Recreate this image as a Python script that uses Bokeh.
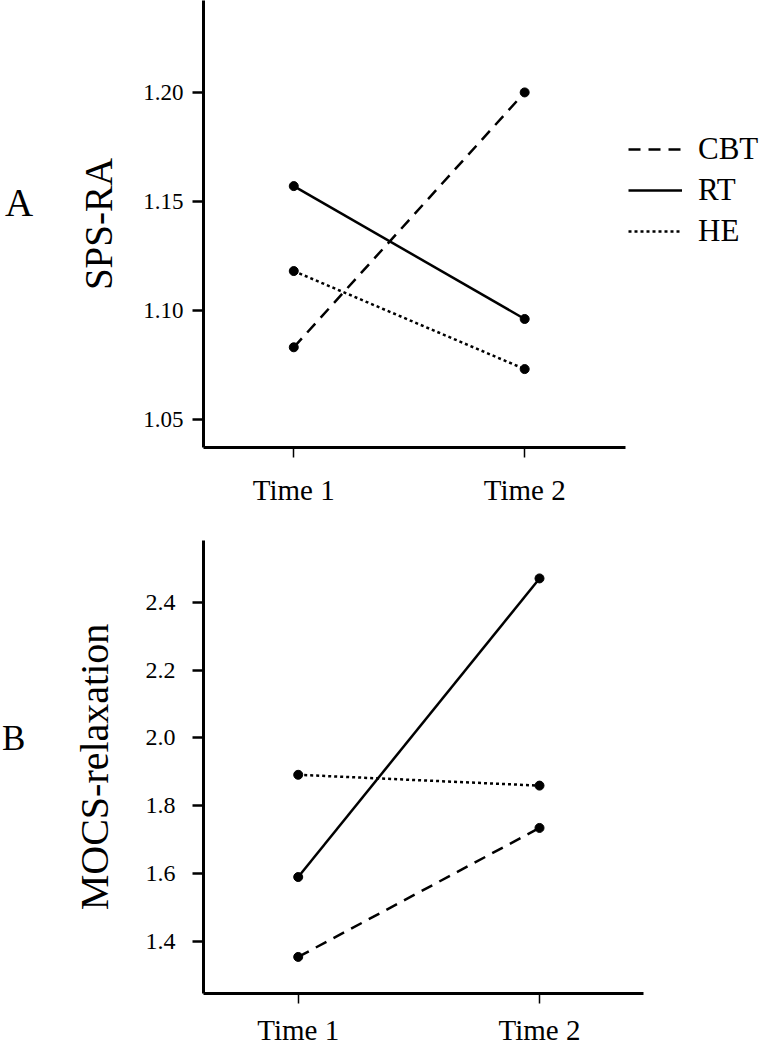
from bokeh.plotting import figure
from bokeh.models import (Range1d, FixedTicker, NumeralTickFormatter, Legend,
                          LegendItem, Div)
from bokeh.layouts import column, row
from bokeh.embed import file_html
from bokeh.resources import INLINE

# ---- data ----
times = ["Time 1", "Time 2"]
groups = ["CBT", "RT", "HE"]

sps_cbt = [1.083, 1.200]
sps_rt = [1.157, 1.096]
sps_he = [1.118, 1.073]

mocs_cbt = [1.353, 1.734]
mocs_rt = [1.589, 2.471]
mocs_he = [1.891, 1.859]

sps_ticks = [1.05, 1.10, 1.15, 1.20]
mocs_ticks = [1.4, 1.6, 1.8, 2.0, 2.2, 2.4]

FONT = "Liberation Serif"
xs = list(range(1, len(times) + 1))
dashes = {"CBT": "12 8", "RT": "solid", "HE": "3 3"}

DIV_W = 60
FIG_W = 705


def make_fig(height, x_rng, y_rng, border_top, border_bottom, border_right,
             yticks, yfmt, ytitle, tick_font, ytick_standoff, title_standoff,
             title_font, xtick_font, xtick_out, xstandoff, xbounds=None):
    p = figure(width=FIG_W, height=height, x_range=x_rng, y_range=y_rng,
               output_backend="svg", toolbar_location=None,
               min_border_left=143, min_border_right=border_right,
               min_border_top=border_top, min_border_bottom=border_bottom)
    p.outline_line_color = None
    p.grid.visible = False
    p.background_fill_color = "white"

    p.xaxis.ticker = FixedTicker(ticks=xs)
    p.xaxis.major_label_overrides = {x: t for x, t in zip(xs, times)}
    if xbounds is not None:
        p.xaxis.bounds = xbounds
    p.yaxis.ticker = FixedTicker(ticks=yticks)
    p.yaxis.formatter = NumeralTickFormatter(format=yfmt)
    for ax in (p.xaxis, p.yaxis):
        ax.axis_line_width = 3
        ax.axis_line_color = "black"
        ax.major_tick_line_color = "black"
        ax.minor_tick_line_color = None
        ax.major_tick_in = 0
        ax.major_label_text_font = FONT
        ax.major_label_text_color = "black"
    p.yaxis.major_tick_out = 11
    p.yaxis.major_tick_line_width = 2.5
    p.yaxis.major_label_text_font_size = tick_font
    p.yaxis.major_label_standoff = ytick_standoff
    p.yaxis.axis_label = ytitle
    p.yaxis.axis_label_text_font = FONT
    p.yaxis.axis_label_text_font_style = "normal"
    p.yaxis.axis_label_text_font_size = title_font
    p.yaxis.axis_label_text_color = "black"
    p.yaxis.axis_label_standoff = title_standoff

    p.xaxis.major_tick_out = xtick_out
    p.xaxis.major_tick_line_width = 1.5
    p.xaxis.major_label_text_font_size = xtick_font
    p.xaxis.major_label_standoff = xstandoff
    return p


def draw_series(p, series):
    rends = {}
    for g, vals in series.items():
        r = p.line(xs, vals, line_color="black", line_width=2.5,
                   line_dash=dashes[g])
        p.scatter(xs, vals, size=9, color="black")
        rends[g] = r
    return rends


def panel_letter(letter, height, size, top, left):
    html = ('<div style="margin:0;padding:0;padding-top:%dpx;padding-left:%dpx;'
            'font-family:\'Liberation Serif\',serif;font-size:%dpx;line-height:1;'
            'color:black;">%s</div>' % (top, left, size, letter))
    return Div(text=html, width=DIV_W, height=height, margin=0)


# ---- panel A (frame runs to the right edge; axis line limited by bounds) ----
pA = make_fig(520, Range1d(0.609, 3.043), Range1d(1.037, 1.2422),
              0, 73, 0, sps_ticks, "0.00", "SPS-RA",
              "23px", 9, 20, "39px", "29px", 10, 16, xbounds=(0.609, 2.436))
rA = draw_series(pA, {"CBT": sps_cbt, "RT": sps_rt, "HE": sps_he})
legend = Legend(items=[LegendItem(label=g, renderers=[rA[g]]) for g in groups],
                location=(425, 198), padding=0, margin=0, spacing=5,
                glyph_width=54, glyph_height=36, label_height=36,
                label_standoff=16,
                label_text_font=FONT, label_text_font_size="31px",
                label_text_color="black",
                border_line_color=None, background_fill_alpha=0)
pA.add_layout(legend, "center")

# ---- panel B ----
pB = make_fig(528, Range1d(0.6075, 2.431), Range1d(1.245, 2.583),
              20, 53, 122, mocs_ticks, "0.0", "MOCS-relaxation",
              "24px", 17, 26, "40px", "29px", 10, 10)
draw_series(pB, {"CBT": mocs_cbt, "RT": mocs_rt, "HE": mocs_he})

divA = panel_letter("A", 520, 39, 183, 5)
divB = panel_letter("B", 528, 35, 201, 2)

layout = column(row(divA, pA, spacing=0), row(divB, pB, spacing=0), spacing=0)
open("out.html", "w").write(file_html(layout, INLINE))
